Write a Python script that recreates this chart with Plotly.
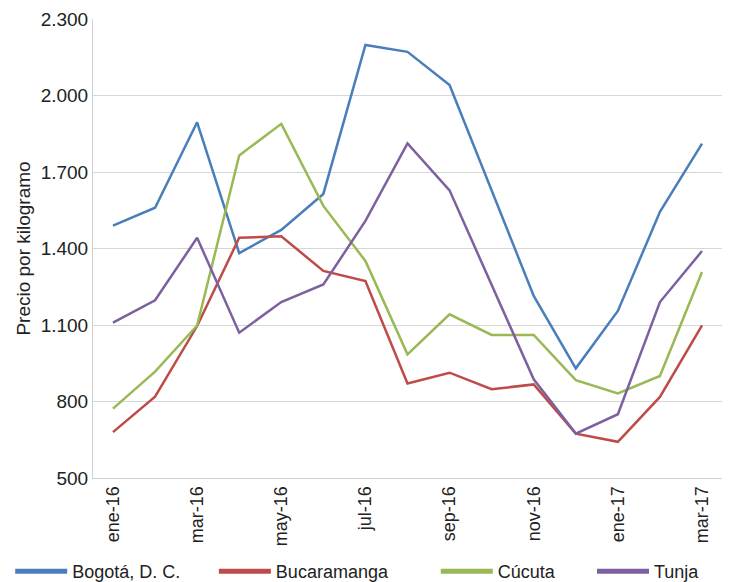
import plotly.graph_objects as go

months = ["ene-16", "feb-16", "mar-16", "abr-16", "may-16", "jun-16", "jul-16", "ago-16",
          "sep-16", "oct-16", "nov-16", "dic-16", "ene-17", "feb-17", "mar-17"]
tick_labels = ["ene-16", "mar-16", "may-16", "jul-16", "sep-16", "nov-16", "ene-17", "mar-17"]

bogota = [1490, 1560, 1895, 1382, 1473, 1614, 2198, 2171, 2041, 1630, 1214, 930, 1155, 1544, 1811]
bucaramanga = [680, 819, 1096, 1442, 1448, 1312, 1272, 871, 913, 848, 867, 674, 642, 818, 1099]
cucuta = [772, 917, 1098, 1765, 1889, 1567, 1351, 985, 1142, 1061, 1061, 884, 832, 900, 1308]
tunja = [1109, 1197, 1442, 1070, 1190, 1259, 1508, 1812, 1628, 1255, 887, 674, 750, 1190, 1390]

series = [
    ("Bogotá, D. C.", bogota, "#4A7EBB"),
    ("Bucaramanga", bucaramanga, "#BE4B48"),
    ("Cúcuta", cucuta, "#98B954"),
    ("Tunja", tunja, "#7D60A0"),
]
legend_ids = ["legend", "legend2", "legend3", "legend4"]
legend_x = [0.003, 0.282, 0.586, 0.800]

fig = go.Figure()
for (name, vals, color), lid in zip(series, legend_ids):
    fig.add_trace(go.Scatter(x=months, y=vals, name=name, mode="lines",
                             line=dict(color=color, width=2.5), showlegend=False))
    # legend-only entry with a thicker line symbol
    fig.add_trace(go.Scatter(x=[None], y=[None], name=name, mode="lines",
                             line=dict(color=color, width=5), showlegend=True,
                             legend=lid))

font = "Liberation Sans, Arial, sans-serif"
legend_common = dict(orientation="h", xref="container", yref="container",
                     y=0.0, xanchor="left", yanchor="bottom",
                     font=dict(size=18, color="#222222"), itemwidth=52,
                     bgcolor="rgba(0,0,0,0)")
layout_legends = {}
for lid, lx in zip(legend_ids, legend_x):
    layout_legends[lid] = dict(legend_common, x=lx)

fig.update_layout(
    width=730, height=582,
    margin=dict(l=85, r=16, t=11, b=112, autoexpand=False),
    paper_bgcolor="white", plot_bgcolor="white",
    separators=",.",
    font=dict(family=font, size=19, color="#222222"),
    showlegend=True,
    xaxis=dict(type="category", range=[-0.475, 14.475],
               tickmode="array", tickvals=tick_labels, ticktext=tick_labels,
               tickangle=-90, showgrid=False, showline=True, linecolor="#d0d0d0",
               linewidth=1, ticks="", tickfont=dict(size=18), automargin=False),
    yaxis=dict(range=[500, 2300], tickmode="array",
               tickvals=[500, 800, 1100, 1400, 1700, 2000, 2300],
               tickformat=",d", showgrid=True, gridcolor="#d6d6d6", gridwidth=1,
               showline=True, linecolor="#d0d0d0", linewidth=1, ticks="",
               zeroline=False, tickfont=dict(size=19), automargin=False,
               title=dict(text="Precio por kilogramo", font=dict(size=19), standoff=5)),
    **layout_legends,
)

fig.write_html("out.html")
